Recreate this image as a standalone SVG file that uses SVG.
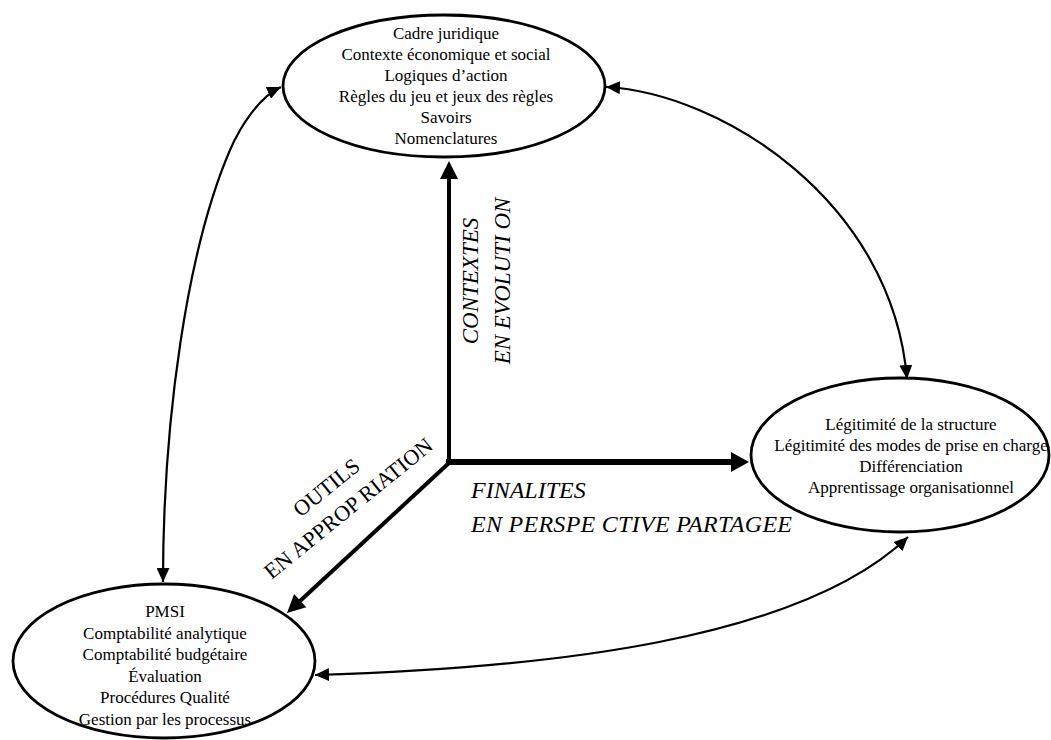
<svg xmlns="http://www.w3.org/2000/svg" width="1051" height="740" viewBox="0 0 1051 740">
<defs>
<style>
.node ellipse{fill:#fff;stroke:#000;stroke-width:2.8}
.lbl{font-family:"Liberation Serif","Times New Roman",serif;font-size:17px;text-anchor:middle;fill:#000}
.ax{font-family:"Liberation Serif","Times New Roman",serif;font-size:22px;fill:#000}
.it{font-style:italic}
.link{fill:none;stroke:#000;stroke-width:2.2;marker-start:url(#ah);marker-end:url(#ah)}
.axis{stroke:#000;fill:none}
.head{fill:#000}
</style>
<marker id="ah" markerUnits="userSpaceOnUse" markerWidth="15" markerHeight="13" refX="14" refY="6.5" orient="auto-start-reverse" viewBox="0 0 15 13">
<path d="M0,0 L14,6.5 L0,13 Z" fill="#000"/>
</marker>
</defs>
<rect width="1051" height="740" fill="#fff"/>

<g id="connectors">
<path class="link" d="M163,582 C163,420 187,250 230,150 C240,127 259,97 281,87"/>
<path class="link" d="M606,87 C720,93 892,200 907,379"/>
<path class="link" d="M315,675 C550,668 800,640 908,537"/>
<line class="axis" x1="449" y1="465" x2="449" y2="176" stroke-width="4"/>
<polygon class="head" points="449,161 440,179 458,179"/>
<line class="axis" x1="446" y1="462" x2="734" y2="462" stroke-width="6"/>
<polygon class="head" points="749,462 731,452 731,472"/>
<line class="axis" x1="450" y1="462" x2="300" y2="601" stroke-width="4"/>
<polygon class="head" points="287,613 306.3,607.3 294.1,594.1"/>
</g>

<g id="node-contextes" class="node">
<ellipse cx="444" cy="86" rx="161" ry="71"/>
<text class="lbl" x="446" y="39">Cadre juridique</text>
<text class="lbl" x="446" y="60">Contexte économique et social</text>
<text class="lbl" x="446" y="81">Logiques d’action</text>
<text class="lbl" x="446" y="102">Règles du jeu et jeux des règles</text>
<text class="lbl" x="446" y="123">Savoirs</text>
<text class="lbl" x="446" y="144">Nomenclatures</text>
</g>

<g id="node-finalites" class="node">
<ellipse cx="900" cy="455" rx="149" ry="77"/>
<text class="lbl" x="911" y="430">Légitimité de la structure</text>
<text class="lbl" x="911" y="451">Légitimité des modes de prise en charge</text>
<text class="lbl" x="911" y="472">Différenciation</text>
<text class="lbl" x="911" y="493">Apprentissage organisationnel</text>
</g>

<g id="node-outils" class="node">
<ellipse cx="164" cy="661" rx="151" ry="77"/>
<text class="lbl" x="165" y="617">PMSI</text>
<text class="lbl" x="165" y="639">Comptabilité analytique</text>
<text class="lbl" x="165" y="660">Comptabilité budgétaire</text>
<text class="lbl" x="165" y="682">Évaluation</text>
<text class="lbl" x="165" y="703">Procédures Qualité</text>
<text class="lbl" x="165" y="725">Gestion par les processus</text>
</g>

<g id="axis-labels">
<g transform="translate(0,281) rotate(-90)">
<text class="ax it" x="0" y="478" text-anchor="middle" style="font-size:23px">CONTEXTES</text>
<text class="ax it" x="0" y="510" text-anchor="middle" style="font-size:23px">EN EVOLUTI ON</text>
</g>
<g transform="translate(353,514) rotate(-39)">
<text class="ax" x="-4" y="-30" text-anchor="middle">OUTILS</text>
<text class="ax" x="0" y="0" text-anchor="middle">EN APPROP RIATION</text>
</g>
<text class="ax it" x="471" y="498" style="font-size:24px">FINALITES</text>
<text class="ax it" x="471" y="532" style="font-size:24px" textLength="321" lengthAdjust="spacing">EN PERSPE CTIVE PARTAGEE</text>
</g>
</svg>
